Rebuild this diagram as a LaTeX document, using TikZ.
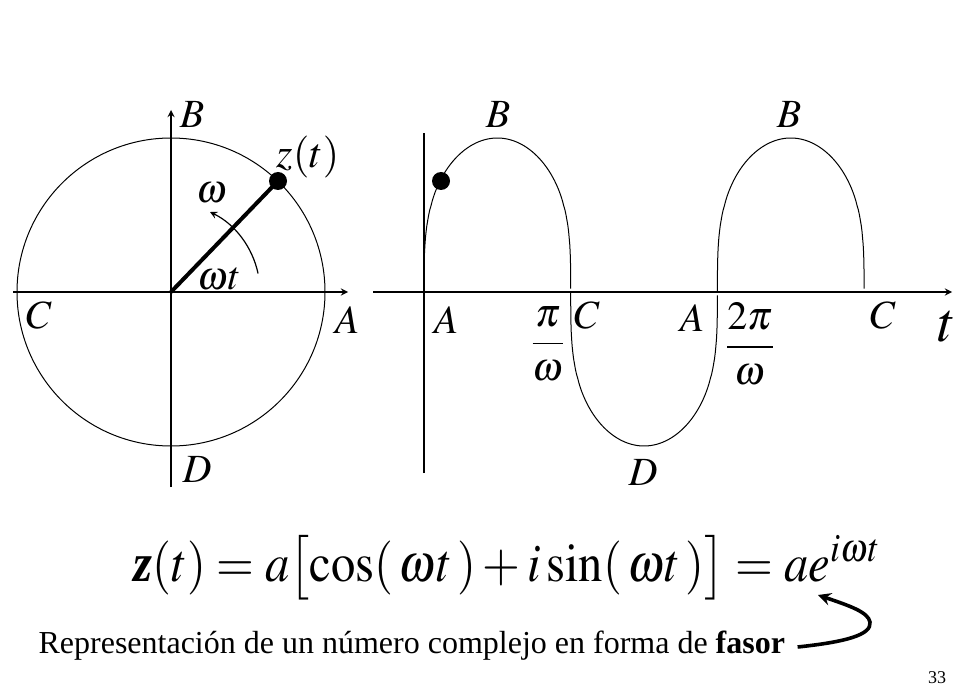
\documentclass[tikz,border=0pt]{standalone}
\usepackage{amsmath}
\usepackage{mathptmx}
\usepackage[no-math]{fontspec}
\setmainfont{Liberation Serif}
\begin{document}
\begin{tikzpicture}[>=stealth, x=.5pt, y=-.5pt, line width=.6pt,
  lbl/.style={inner sep=0pt, font=\fontsize{20}{22}\selectfont}]
\useasboundingbox (0,0) rectangle (980,700);
\coordinate (O) at (171,292);
\coordinate (Cw) at (13,292);  \coordinate (Ae) at (348,292);
\coordinate (Dn) at (171,487); \coordinate (Bn) at (171,110);
\draw[line width=.5pt](O) circle (154);
\draw[->](Cw)--(Ae);
\draw[->](Dn)--(Bn);
\node[circle, fill, inner sep=0pt, minimum size=9pt] (zdot) at (278,181) {};
\draw[line width=2pt](O)--(zdot.center);
\draw[->](O)++(-12:89) arc (-12:-64:89);
\foreach \x/\y/\l/\n in {192/115/B/Bl, 39/315/C/Cl, 347/320/A/Al, 197/470/D/Dl, 212/193/\omega/wl}
{
    \node[lbl] (\n) at (\x,\y) {$\l$};
}
\node[lbl, font=\fontsize{21}{23}\selectfont] (zt) at (308,157) {$z(t)$};
\node[lbl] (wt) at (219,279) {$\omega t$};
\coordinate (O2) at (424,292);
\coordinate (tl) at (373,292); \coordinate (te) at (952,292);
\coordinate (vt) at (424,133); \coordinate (vb) at (424,473);
\draw[->](tl)--(te);
\draw(vb)--(vt);
\foreach \k/\s in {0/1,1/-1,2/1}
{
    \draw[line width=.5pt, domain=0:1, samples=80] plot ({424+146.7*(\k+(1-cos(180*\x))/2)}, {292-\s*154*sin(90-90*cos(180*\x))*pow(sin(90-90*cos(180*\x))+0.0001,-0.7)});
}
\node[circle, fill, inner sep=0pt, minimum size=9pt] (wdot) at (441,181) {};
\foreach \x/\y/\l/\n in {498/115/B/B1, 789/115/B/B2, 446/320/A/A1, 587/315/C/C1, 643/473/D/D1, 692/318/A/A2, 883/315/C/C2}
{
    \node[lbl] (\n) at (\x,\y) {$\l$};
}
\node[lbl] (pw) at (548,344) {$\dfrac{\pi}{\omega}$};
\node[lbl] (pw2) at (750,344) {$\dfrac{2\pi}{\omega}$};
\node[lbl, font=\fontsize{28}{30}\selectfont] (tt) at (947,327) {$\boldsymbol{t}$};
\node[inner sep=0pt, anchor=base, font=\fontsize{27}{30}\selectfont] (eq) at (507,581)
  {\scalebox{.9}[1]{$\mbox{\textbf{\textit{z}}}(t)=a\bigl[\cos(\,\omega t\,)+i\sin(\,\omega t\,)\bigr]=ae^{i\omega t}$}};
\node[inner sep=0pt, anchor=base west, font=\fontsize{16}{18}\selectfont] (rep) at (38,653)
  {Representación de un número complejo en forma de \textbf{fasor}};
\node[inner sep=0pt, font=\fontsize{9}{10}\selectfont] (pg) at (937,678) {33};
\draw[->, line width=1.8pt](rep.base east)++(12,-6) .. controls (845,642) and (872,635) .. (870,622) .. controls (868,612) and (850,606) .. (818,595);
\end{tikzpicture}
\end{document}
